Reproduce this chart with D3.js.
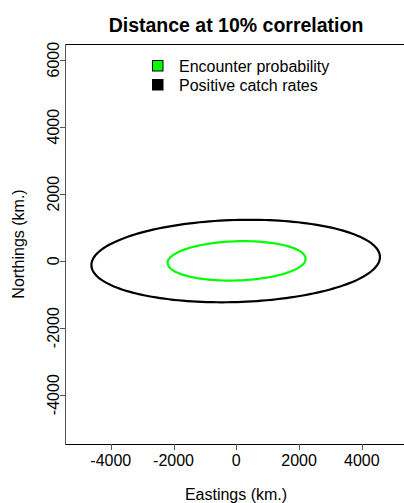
<!DOCTYPE html>
<html><head><meta charset="utf-8">
<script src="https://cdn.jsdelivr.net/npm/d3@7"></script>
<style>body{margin:0;background:#fff;}svg{display:block;font-family:"Liberation Sans",Arial,sans-serif;}</style>
</head><body>
<script>
// Data
const seriesNames = ["Encounter probability", "Positive catch rates"];
const seriesColors = ["#00FF00", "#000000"];
const centerX = [10, -20];          // km
const centerY = [-5, -10];          // km
const semiMajor = [2200, 4600];     // km
const semiMinor = [585, 1225];      // km
const rotationDeg = [1.7, 1.6];     // degrees
const xTicks = [-4000, -2000, 0, 2000, 4000];
const yTicks = [-4000, -2000, 0, 2000, 4000, 6000];
const title = "Distance at 10% correlation";
const xLabel = "Eastings (km.)";
const yLabel = "Northings (km.)";

const W = 404, H = 503;
const svg = d3.select("body").append("svg").attr("width", W).attr("height", H);

const x = d3.scaleLinear().domain([-5428, 5428]).range([66, 406.6]);
const y = d3.scaleLinear().domain([-5472, 6469]).range([444, 44]);

// box
svg.append("line").attr("x1", 66).attr("x2", 410).attr("y1", 44.5).attr("y2", 44.5).attr("stroke", "#000");
svg.append("line").attr("x1", 66).attr("x2", 410).attr("y1", 444.5).attr("y2", 444.5).attr("stroke", "#000");
svg.append("line").attr("x1", 65.5).attr("x2", 65.5).attr("y1", 44).attr("y2", 445).attr("stroke", "#555");

// ellipses
const line = d3.line().x(d => x(d[0])).y(d => y(d[1]));
const ts = d3.range(0, 361, 2).map(d => d * Math.PI / 180);
seriesNames.forEach((name, i) => {
  const th = rotationDeg[i] * Math.PI / 180;
  const pts = ts.map(t => {
    const a = semiMajor[i] * Math.cos(t), b = semiMinor[i] * Math.sin(t);
    return [centerX[i] + a * Math.cos(th) - b * Math.sin(th), centerY[i] + a * Math.sin(th) + b * Math.cos(th)];
  });
  svg.append("path").attr("d", line(pts) + "Z").attr("fill", "none")
    .attr("stroke", seriesColors[i]).attr("stroke-width", 2.2);
});

// x axis ticks
const gx = svg.append("g");
xTicks.forEach(t => {
  const px = Math.round(x(t)) + 0.5;
  gx.append("line").attr("x1", px).attr("x2", px).attr("y1", 444).attr("y2", 450).attr("stroke", "#555");
  gx.append("text").attr("x", x(t)).attr("y", 466).attr("text-anchor", "middle")
    .attr("font-size", 16).text(t);
});
// y axis ticks
const gy = svg.append("g");
yTicks.forEach(t => {
  const py = Math.round(y(t)) + 0.5;
  gy.append("line").attr("x1", 60).attr("x2", 66).attr("y1", py).attr("y2", py).attr("stroke", "#555");
  gy.append("text").attr("transform", `translate(58.5,${y(t)}) rotate(-90)`)
    .attr("text-anchor", "middle").attr("font-size", 16).text(t);
});

// titles
svg.append("text").attr("x", 236).attr("y", 32).attr("text-anchor", "middle")
  .attr("font-size", 19.5).attr("font-weight", "bold").text(title);
svg.append("text").attr("x", 236).attr("y", 500).attr("text-anchor", "middle")
  .attr("font-size", 16).text(xLabel);
svg.append("text").attr("transform", `translate(24,244) rotate(-90)`).attr("text-anchor", "middle")
  .attr("font-size", 16).text(yLabel);

// legend
const legY = [66, 85];
seriesNames.forEach((name, i) => {
  svg.append("rect").attr("x", 152.5).attr("y", legY[i] - 5.5).attr("width", 10.5).attr("height", 10.5)
    .attr("fill", seriesColors[i]).attr("stroke", "#000").attr("stroke-width", 1);
  svg.append("text").attr("x", 179).attr("y", legY[i] + 5.7).attr("font-size", 16).text(name);
});
</script>
</body></html>
